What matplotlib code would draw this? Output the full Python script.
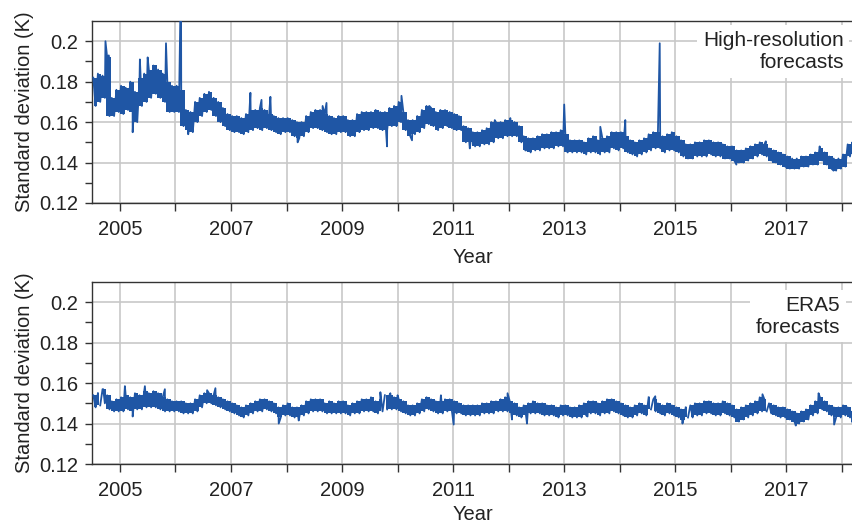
import numpy as np
import matplotlib
matplotlib.use("Agg")
import matplotlib.pyplot as plt
from matplotlib.ticker import FixedLocator

plt.rcParams['font.family'] = ['Liberation Sans', 'DejaVu Sans']

# monthly band (low / high), Jul 2004 .. Mar 2018
hres_lo = (
    [0.168, 0.170, 0.172, 0.163, 0.163, 0.165] +
    [0.164, 0.166, 0.165, 0.160, 0.168, 0.170, 0.172, 0.174, 0.172, 0.170, 0.165, 0.165] +
    [0.165, 0.158, 0.156, 0.155, 0.160, 0.163, 0.165, 0.166, 0.163, 0.160, 0.158, 0.156] +
    [0.155, 0.155, 0.154, 0.155, 0.156, 0.157, 0.156, 0.157, 0.156, 0.155, 0.154, 0.155] +
    [0.155, 0.153, 0.152, 0.153, 0.155, 0.157, 0.157, 0.156, 0.155, 0.154, 0.154, 0.155] +
    [0.155, 0.153, 0.153, 0.155, 0.156, 0.156, 0.157, 0.157, 0.156, 0.156, 0.158, 0.158] +
    [0.160, 0.156, 0.153, 0.154, 0.155, 0.157, 0.159, 0.158, 0.156, 0.157, 0.158, 0.157] +
    [0.156, 0.156, 0.150, 0.150, 0.148, 0.148, 0.149, 0.149, 0.150, 0.152, 0.152, 0.153] +
    [0.153, 0.153, 0.150, 0.146, 0.145, 0.146, 0.146, 0.147, 0.147, 0.147, 0.148, 0.148] +
    [0.145, 0.145, 0.145, 0.145, 0.144, 0.145, 0.145, 0.144, 0.145, 0.145, 0.147, 0.146] +
    [0.147, 0.145, 0.144, 0.143, 0.144, 0.145, 0.146, 0.147, 0.147, 0.145, 0.146, 0.146] +
    [0.145, 0.143, 0.142, 0.142, 0.143, 0.143, 0.143, 0.144, 0.143, 0.143, 0.142, 0.142] +
    [0.141, 0.140, 0.140, 0.141, 0.142, 0.143, 0.144, 0.143, 0.141, 0.140, 0.139, 0.138] +
    [0.137, 0.137, 0.137, 0.138, 0.138, 0.139, 0.139, 0.141, 0.139, 0.137, 0.136, 0.137] +
    [0.138, 0.143, 0.144])
hres_hi = (
    [0.182, 0.184, 0.183, 0.192, 0.172, 0.176] +
    [0.178, 0.177, 0.180, 0.175, 0.182, 0.184, 0.186, 0.188, 0.186, 0.184, 0.180, 0.178] +
    [0.178, 0.176, 0.166, 0.165, 0.170, 0.172, 0.174, 0.175, 0.172, 0.170, 0.167, 0.164] +
    [0.163, 0.163, 0.162, 0.164, 0.166, 0.166, 0.167, 0.166, 0.164, 0.163, 0.162, 0.162] +
    [0.162, 0.161, 0.160, 0.160, 0.163, 0.165, 0.166, 0.166, 0.164, 0.163, 0.162, 0.163] +
    [0.163, 0.161, 0.161, 0.164, 0.165, 0.165, 0.165, 0.166, 0.165, 0.165, 0.167, 0.168] +
    [0.170, 0.165, 0.161, 0.161, 0.163, 0.166, 0.168, 0.167, 0.165, 0.166, 0.166, 0.165] +
    [0.164, 0.163, 0.158, 0.157, 0.155, 0.155, 0.156, 0.157, 0.160, 0.160, 0.160, 0.161] +
    [0.161, 0.160, 0.158, 0.153, 0.152, 0.152, 0.153, 0.154, 0.154, 0.155, 0.155, 0.156] +
    [0.154, 0.151, 0.151, 0.151, 0.150, 0.152, 0.153, 0.151, 0.152, 0.153, 0.155, 0.155] +
    [0.155, 0.153, 0.151, 0.150, 0.151, 0.152, 0.154, 0.155, 0.155, 0.153, 0.154, 0.155] +
    [0.153, 0.151, 0.149, 0.149, 0.150, 0.150, 0.151, 0.151, 0.150, 0.150, 0.149, 0.148] +
    [0.148, 0.146, 0.146, 0.147, 0.148, 0.149, 0.150, 0.149, 0.147, 0.146, 0.145, 0.144] +
    [0.143, 0.142, 0.142, 0.143, 0.143, 0.144, 0.145, 0.147, 0.145, 0.143, 0.142, 0.142] +
    [0.144, 0.149, 0.150])

# single-day spikes / dips in the high-resolution series
hres_spike_t = [2004.74, 2004.80, 2005.23, 2005.36, 2005.50, 2005.83, 2006.10, 2006.23,
                2007.35, 2007.55, 2007.71, 2008.20, 2008.65, 2008.72, 2009.81, 2010.07,
                2010.26, 2010.57, 2011.30, 2011.75, 2012.03, 2012.30, 2013.00, 2013.05,
                2013.65, 2014.10, 2014.72, 2016.10, 2016.63, 2017.02, 2017.60, 2017.85]
hres_spike_v = [0.200, 0.193, 0.155, 0.191, 0.192, 0.199, 0.235, 0.154,
                0.1745, 0.171, 0.1725, 0.150, 0.168, 0.1695, 0.148, 0.173,
                0.151, 0.168, 0.147, 0.161, 0.162, 0.146, 0.1687, 0.1457,
                0.1577, 0.161, 0.199, 0.139, 0.1505, 0.1375, 0.148, 0.136]

era5_lo = (
    [0.148, 0.149, 0.150, 0.147, 0.146, 0.146] +
    [0.146, 0.147, 0.146, 0.147, 0.147, 0.148, 0.148, 0.148, 0.147, 0.146, 0.146, 0.146] +
    [0.146, 0.145, 0.145, 0.145, 0.146, 0.148, 0.150, 0.150, 0.149, 0.148, 0.147, 0.146] +
    [0.145, 0.144, 0.143, 0.144, 0.145, 0.146, 0.146, 0.147, 0.146, 0.145, 0.143, 0.144] +
    [0.144, 0.143, 0.143, 0.144, 0.145, 0.146, 0.146, 0.146, 0.145, 0.145, 0.145, 0.145] +
    [0.145, 0.144, 0.145, 0.145, 0.146, 0.146, 0.146, 0.145, 0.146, 0.147, 0.147, 0.147] +
    [0.146, 0.145, 0.144, 0.144, 0.145, 0.146, 0.147, 0.146, 0.145, 0.145, 0.146, 0.146] +
    [0.145, 0.145, 0.144, 0.144, 0.144, 0.144, 0.145, 0.145, 0.145, 0.146, 0.146, 0.146] +
    [0.145, 0.144, 0.143, 0.144, 0.145, 0.145, 0.145, 0.144, 0.144, 0.144, 0.143, 0.144] +
    [0.144, 0.143, 0.143, 0.143, 0.144, 0.145, 0.145, 0.144, 0.145, 0.145, 0.146, 0.145] +
    [0.144, 0.143, 0.143, 0.144, 0.145, 0.144, 0.147, 0.146, 0.145, 0.144, 0.145, 0.144] +
    [0.143, 0.142, 0.143, 0.143, 0.144, 0.144, 0.145, 0.145, 0.144, 0.144, 0.145, 0.144] +
    [0.143, 0.141, 0.142, 0.143, 0.144, 0.145, 0.146, 0.146, 0.145, 0.144, 0.143, 0.143] +
    [0.142, 0.141, 0.140, 0.141, 0.142, 0.144, 0.145, 0.147, 0.146, 0.144, 0.143, 0.143] +
    [0.144, 0.143, 0.141])
era5_hi = (
    [0.154, 0.155, 0.157, 0.154, 0.151, 0.152] +
    [0.153, 0.154, 0.153, 0.155, 0.154, 0.156, 0.155, 0.156, 0.155, 0.153, 0.152, 0.151] +
    [0.151, 0.151, 0.150, 0.150, 0.152, 0.154, 0.155, 0.155, 0.154, 0.153, 0.152, 0.151] +
    [0.150, 0.149, 0.148, 0.149, 0.150, 0.151, 0.152, 0.152, 0.151, 0.150, 0.148, 0.149] +
    [0.150, 0.148, 0.148, 0.149, 0.151, 0.152, 0.152, 0.152, 0.150, 0.151, 0.150, 0.151] +
    [0.151, 0.149, 0.150, 0.151, 0.152, 0.152, 0.153, 0.151, 0.152, 0.154, 0.154, 0.153] +
    [0.152, 0.151, 0.149, 0.149, 0.150, 0.152, 0.153, 0.152, 0.151, 0.151, 0.152, 0.152] +
    [0.151, 0.150, 0.149, 0.149, 0.149, 0.149, 0.150, 0.150, 0.151, 0.151, 0.152, 0.153] +
    [0.151, 0.150, 0.148, 0.149, 0.150, 0.151, 0.150, 0.150, 0.149, 0.149, 0.148, 0.149] +
    [0.149, 0.148, 0.148, 0.149, 0.150, 0.151, 0.151, 0.150, 0.151, 0.152, 0.152, 0.151] +
    [0.150, 0.149, 0.148, 0.149, 0.150, 0.149, 0.153, 0.152, 0.150, 0.149, 0.150, 0.149] +
    [0.148, 0.147, 0.148, 0.149, 0.150, 0.150, 0.151, 0.151, 0.150, 0.150, 0.151, 0.150] +
    [0.149, 0.147, 0.148, 0.149, 0.150, 0.151, 0.153, 0.152, 0.150, 0.149, 0.148, 0.148] +
    [0.147, 0.146, 0.145, 0.146, 0.147, 0.149, 0.151, 0.153, 0.151, 0.149, 0.148, 0.148] +
    [0.149, 0.148, 0.146])

era5_spike_t = [2004.70, 2005.09, 2005.23, 2005.45, 2005.81, 2006.57, 2006.72, 2007.86,
                2008.22, 2009.69, 2009.87, 2010.00, 2010.78, 2011.01, 2011.98, 2012.06,
                2012.33, 2013.42, 2014.64, 2015.13, 2016.57, 2017.17, 2017.58, 2017.86,
                2018.19]
era5_spike_v = [0.157, 0.1585, 0.1435, 0.1585, 0.157, 0.1565, 0.1575, 0.140,
                0.1415, 0.1555, 0.155, 0.154, 0.154, 0.1395, 0.155, 0.142,
                0.140, 0.1435, 0.1535, 0.140, 0.1545, 0.139, 0.155, 0.1395,
                0.1405]
# short stretches with no ERA5 data
era5_gap_t = [2004.63, 2009.78, 2014.55, 2015.21, 2016.63]

start_year = 2004.5


def merge(t, v, extra_t, extra_v):
    t = np.concatenate([t, extra_t])
    v = np.concatenate([v, extra_v])
    order = np.argsort(t)
    return t[order], v[order]


def build(lo, hi, extra_t, extra_v):
    t0 = start_year + np.arange(len(lo)) / 12.0
    t = np.column_stack([t0 + 1 / 48.0, t0 + 3 / 48.0]).ravel()
    v = np.column_stack([hi, lo]).ravel()
    return merge(t, v, extra_t, extra_v)


gap_nan = [np.nan] * len(era5_gap_t)
t_hres, v_hres = build(hres_lo, hres_hi, hres_spike_t, hres_spike_v)
t_era5, v_era5 = build(era5_lo, era5_hi, era5_spike_t + era5_gap_t,
                       era5_spike_v + gap_nan)

line_color = '#1f56a5'
text_color = '#222222'
spine_color = '#333333'
fs = 14.5

fig = plt.figure(figsize=(8.53, 5.24), dpi=100)
ax1 = fig.add_axes([0.108, 0.6126, 0.892, 0.3473])
ax2 = fig.add_axes([0.108, 0.1145, 0.892, 0.3473])

panels = [(ax1, t_hres, v_hres, hres_lo, hres_hi, [], 'High-resolution\nforecasts', 0.988, 0.945, 7),
          (ax2, t_era5, v_era5, era5_lo, era5_hi, era5_gap_t, 'ERA5\nforecasts', 0.983, 0.925, 4)]

for ax, t, v, lo, hi, gaps, label, lx, ly, xpad in panels:
    # monthly band underneath the daily trace, broken where data are missing
    tc = start_year + (np.arange(len(lo)) + 0.5) / 12.0
    nan = [np.nan] * len(gaps)
    tf, lof = merge(tc, lo, gaps, nan)
    _, hif = merge(tc, hi, gaps, nan)
    ax.fill_between(tf, lof, hif, step='mid', color=line_color, lw=0, zorder=2)
    ax.plot(t, v, color=line_color, lw=1.3, zorder=3)

    ax.set_xlim(2004.5, 2018.2)
    ax.set_ylim(0.12, 0.21)

    ax.xaxis.set_major_locator(FixedLocator(np.arange(2005, 2019)))
    ax.set_xticklabels([str(y) if y % 2 == 1 else '' for y in range(2005, 2019)])
    ax.yaxis.set_major_locator(FixedLocator([0.12, 0.14, 0.16, 0.18, 0.20]))
    ax.set_yticklabels(['0.12', '0.14', '0.16', '0.18', '0.2'])
    ax.yaxis.set_minor_locator(FixedLocator([0.13, 0.15, 0.17, 0.19]))

    ax.grid(True, which='major', color='#c8c8c8', lw=1.2, zorder=0)
    ax.tick_params(axis='x', which='both', direction='out', length=6, width=1,
                   color=spine_color, labelsize=fs, labelcolor=text_color, pad=6)
    ax.tick_params(axis='y', which='both', direction='out', length=5, width=1,
                   color=spine_color, labelsize=fs, labelcolor=text_color, pad=5)

    for side in ['left', 'bottom', 'top']:
        ax.spines[side].set_color(spine_color)
        ax.spines[side].set_linewidth(1.0)
    ax.spines['right'].set_visible(False)

    ax.set_xlabel('Year', fontsize=fs, color=text_color, labelpad=xpad)
    ax.set_ylabel('Standard deviation (K)', fontsize=fs, color=text_color, labelpad=4)

    ax.text(lx, ly, label, transform=ax.transAxes, ha='right', va='top',
            multialignment='right', fontsize=15, color=text_color, zorder=4,
            bbox=dict(facecolor='white', edgecolor='none', pad=4))

fig.savefig('out.png', dpi=100)
